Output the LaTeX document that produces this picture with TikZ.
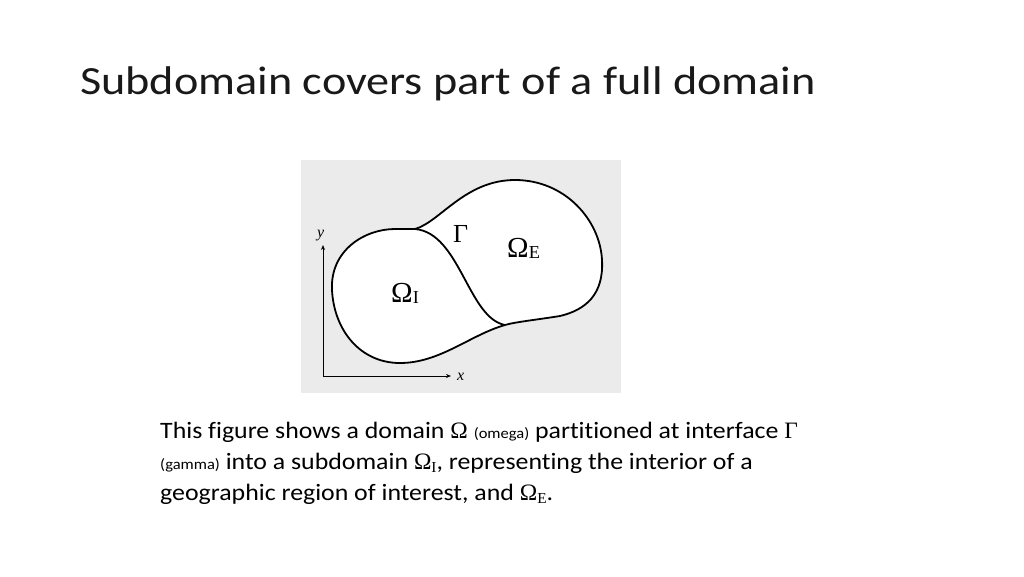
\documentclass[tikz,border=0pt]{standalone}
\usepackage{fontspec}
\setmainfont[Ligatures=CommonOff, FakeStretch=1.1]{Carlito}
\newfontfamily\titlefont[Ligatures=CommonOff, FakeStretch=1.155]{Carlito}
\newfontfamily\symfont{Liberation Serif}
\usepackage{graphicx}
\usetikzlibrary{arrows.meta, positioning}
\definecolor{figgray}{RGB}{235,235,235}
\newcommand{\lowsub}[1]{\raisebox{-0.35ex}{\scalebox{0.65}{#1}}}
\newcommand{\labsub}[1]{\raisebox{-0.12ex}{\scalebox{0.63}{#1}}}

\begin{document}
\begin{tikzpicture}[x=1pt, y=-1pt,
    boundary/.style={line width=1.8pt, black},
    axisline/.style={line width=0.8pt, -{Stealth[length=5pt, width=4pt]}},
    mathlbl/.style={anchor=base west, inner sep=0pt, font=\symfont\fontsize{29}{29}\selectfont},
    axislbl/.style={anchor=base west, inner sep=0pt, font=\symfont\itshape\fontsize{16}{16}\selectfont},
    bodytext/.style={anchor=base west, inner sep=0pt, font=\fontsize{23.5}{28}\selectfont}]
    \useasboundingbox (0,0) rectangle (1024,576);

    % Title
    \node[anchor=base west, inner sep=0pt, text=black!90, font=\titlefont\fontsize{40}{40}\selectfont] (title) at (80,94) {Subdomain covers part of a full domain};

    % Figure background
    \fill[figgray] (301,160) rectangle (621,393);

    % Domain outline
    \filldraw[boundary, fill=white] (415,229) .. controls (440,222) and (465,180) .. (515,180)
        .. controls (565,180) and (600,220) .. (602,260)
        .. controls (604,295) and (585,310) .. (560,316)
        .. controls (535,320) and (515,322) .. (505,325)
        .. controls (470,335) and (440,363) .. (400,363)
        .. controls (360,363) and (334,330) .. (332,290)
        .. controls (330,250) and (365,229) .. (395,229)
        .. controls (405,229) and (410,229) .. (415,229) -- cycle;
    % Interface
    \draw[boundary] (415,229) .. controls (460,233) and (468,318) .. (505,325);

    % Axes
    \coordinate (origin) at (323,376);
    \coordinate (ytip) at (323,245);
    \coordinate (xtip) at (451,376);
    \draw[axisline] (origin) -- (ytip);
    \draw[axisline] (origin) -- (xtip);
    \node[axislbl] (ylbl) at (317,237) {y};
    \node[axislbl] (xlbl) at (457,380) {x};

    % Region labels
    \node[mathlbl, font=\symfont\fontsize{26}{26}\selectfont] (gammalbl) at (453,242) {Γ};
    \node[mathlbl] (omegaE) at (507,257) {Ω\labsub{E}};
    \node[mathlbl] (omegaI) at (391,302) {Ω\labsub{I}};

    % Caption
    \node[bodytext] (line1) at (160,438) {This figure shows a domain {\symfont Ω} {\fontsize{15}{15}\selectfont (omega)} partitioned at interface {\symfont Γ}};
    \node[bodytext] (line2) at (160,469) {{\fontsize{15}{15}\selectfont (gamma)} into a subdomain {\symfont Ω\lowsub{I}}, representing the interior of a};
    \node[bodytext] (line3) at (160,500) {geographic region of interest, and {\symfont Ω\lowsub{E}}.};
\end{tikzpicture}
\end{document}
